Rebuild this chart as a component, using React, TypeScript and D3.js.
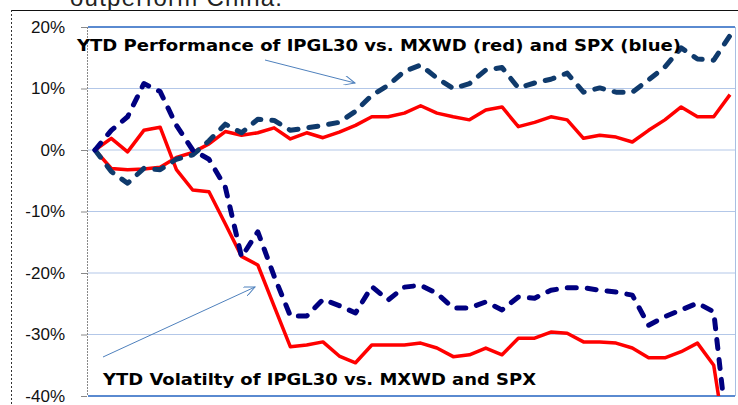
import React, { useEffect, useRef } from "react";
import * as d3 from "d3";

// weekly observations, YTD
const weeks = [
  1, 2, 3, 4, 5, 6, 7, 8, 9, 10, 11, 12, 13, 14, 15, 16, 17, 18, 19, 20,
  21, 22, 23, 24, 25, 26, 27, 28, 29, 30, 31, 32, 33, 34, 35, 36, 37, 38, 39, 40
];

// performance of IPGL30 vs MXWD (red) and SPX (blue), in %
const perfVsMxwd = [
  0, -3, -3.2, -3.1, -2.8, -1.2, -0.4, 1, 3, 2.4, 2.8, 3.6, 1.8, 2.8, 2, 2.9, 4, 5.4, 5.4, 6,
  7.2, 6, 5.4, 4.9, 6.5, 7, 3.8, 4.5, 5.4, 4.9, 1.9, 2.4, 2.1, 1.3, 3.2, 4.9, 7, 5.4, 5.4, 9
];
const perfVsSpx = [
  0, -3.5, -5.4, -3, -3.2, -1.5, -0.8, 1.5, 4.2, 2.8, 5, 4.8, 3.2, 3.6, 4, 4.5, 6.3, 8.9, 10.5, 12.8,
  13.8, 11.7, 10, 10.8, 13, 13.4, 10.1, 10.9, 11.5, 12.5, 9.4, 10.1, 9.4, 9.4, 11.4, 13.5, 16.6, 14.8, 14.6, 18.6
];

// volatility of IPGL30 vs MXWD (red) and SPX (blue), in %
const volVsMxwd = [
  0, 1.9, -0.3, 3.2, 3.7, -3.2, -6.5, -6.8, -12, -17.3, -18.7, -25.4, -32, -31.7, -31.2, -33.5, -34.6, -31.7, -31.7, -31.7,
  -31.4, -32.2, -33.6, -33.3, -32.2, -33.3, -30.6, -30.6, -29.6, -29.8, -31.2, -31.2, -31.4, -32.2, -33.8, -33.8, -32.8, -31.4, -35, -52
];
const volVsSpx = [
  0, 3.2, 5.4, 10.8, 9.5, 4, 0, -1.5, -6, -17.4, -13.3, -20.5, -27, -27, -24.3, -25.3, -26.5, -22.2, -24.4, -22.3,
  -22, -23.3, -25.7, -25.7, -24.7, -26, -23.9, -24.1, -22.8, -22.4, -22.4, -22.8, -23.1, -23.6, -28.5, -27.1, -26, -24.9, -26.3, -50
];

const yTicks = [20, 10, 0, -10, -20, -30, -40];

const perfLabel = "YTD Performance of IPGL30 vs. MXWD (red) and SPX (blue)";
const volLabel = "YTD Volatilty of IPGL30 vs. MXWD and SPX";

const App: React.FC = () => {
  const svgRef = useRef<SVGSVGElement | null>(null);

  useEffect(() => {
    if (!svgRef.current) return;
    const svg = d3.select(svgRef.current);
    svg.selectAll("*").remove();

    const plot = { left: 88, right: 735, top: 27, bottom: 396 };

    const x = d3.scaleLinear()
      .domain([weeks[0], weeks[weeks.length - 1]])
      .range([95, 730]);

    const y = d3.scaleLinear()
      .domain([-40, 20])
      .range([plot.bottom, plot.top]);

    // outer frame of the slide box
    svg.append("line")
      .attr("x1", 11).attr("x2", 738)
      .attr("y1", 10.5).attr("y2", 10.5)
      .attr("stroke", "#111").attr("stroke-width", 1);
    svg.append("line")
      .attr("x1", 11.5).attr("x2", 11.5)
      .attr("y1", 10).attr("y2", 405)
      .attr("stroke", "#333").attr("stroke-dasharray", "2,2");

    // cut-off text from above
    svg.append("text")
      .attr("x", 70).attr("y", 6)
      .attr("font-family", "Liberation Sans, Arial, sans-serif")
      .attr("font-size", 24)
      .attr("fill", "#222")
      .attr("textLength", 212)
      .text("outperform China.");

    const defs = svg.append("defs");
    defs.append("clipPath").attr("id", "plotClip")
      .append("rect")
      .attr("x", plot.left).attr("y", 20)
      .attr("width", plot.right - plot.left).attr("height", plot.bottom - 20);
    defs.append("marker")
      .attr("id", "arrowHead")
      .attr("viewBox", "0 0 12 10")
      .attr("refX", 11).attr("refY", 5)
      .attr("markerWidth", 12).attr("markerHeight", 10)
      .attr("markerUnits", "userSpaceOnUse")
      .attr("orient", "auto")
      .append("path")
      .attr("d", "M0,0 L11,5 L0,10")
      .attr("fill", "none")
      .attr("stroke", "#4f81bd")
      .attr("stroke-width", 1);

    // gridlines
    svg.append("g")
      .selectAll("line")
      .data(yTicks)
      .enter()
      .append("line")
      .attr("x1", plot.left).attr("x2", plot.right)
      .attr("y1", d => y(d)).attr("y2", d => y(d))
      .attr("stroke", d => (d === 20 || d === -40) ? "#5a8ad0" : "#b3c7e8")
      .attr("stroke-width", d => (d === 20 || d === -40) ? 2 : 1);

    // right border of plot
    svg.append("line")
      .attr("x1", plot.right + 0.5).attr("x2", plot.right + 0.5)
      .attr("y1", plot.top).attr("y2", plot.bottom)
      .attr("stroke", "#a8bfe3");

    // y axis
    const axis = svg.append("g");
    axis.append("line")
      .attr("x1", 87.5).attr("x2", 87.5)
      .attr("y1", plot.top).attr("y2", plot.bottom)
      .attr("stroke", "#888").attr("stroke-dasharray", "2,1");
    axis.selectAll(".tick")
      .data(yTicks)
      .enter()
      .append("line")
      .attr("x1", 81).attr("x2", 87)
      .attr("y1", d => y(d) + 0.5).attr("y2", d => y(d) + 0.5)
      .attr("stroke", "#888");
    axis.selectAll(".label")
      .data(yTicks)
      .enter()
      .append("text")
      .attr("x", 65)
      .attr("y", d => y(d))
      .attr("dy", "0.35em")
      .attr("text-anchor", "end")
      .attr("font-family", "Liberation Sans, Arial, sans-serif")
      .attr("font-size", 17)
      .attr("fill", "#111")
      .text(d => `${d}%`);

    const line = d3.line<number>()
      .x((_, i) => x(weeks[i]))
      .y(d => y(d));

    const series = [
      { values: perfVsMxwd, color: "#ff0000", dashed: false },
      { values: volVsMxwd, color: "#ff0000", dashed: false },
      { values: perfVsSpx, color: "#0f3a6c", dashed: true },
      { values: volVsSpx, color: "#000080", dashed: true }
    ];

    const lines = svg.append("g").attr("clip-path", "url(#plotClip)");
    series.forEach(s => {
      lines.append("path")
        .datum(s.values)
        .attr("d", line)
        .attr("fill", "none")
        .attr("stroke", s.color)
        .attr("stroke-width", s.dashed ? 5 : 3.5)
        .attr("stroke-linejoin", "round")
        .attr("stroke-linecap", s.dashed ? "round" : "butt")
        .attr("stroke-dasharray", s.dashed ? "9,11" : null);
    });

    // annotations
    svg.append("text")
      .attr("x", 77).attr("y", 51)
      .attr("font-family", "DejaVu Sans, Verdana, sans-serif")
      .attr("font-weight", "bold")
      .attr("font-size", 16)
      .attr("fill", "#000")
      .attr("textLength", 604)
      .attr("lengthAdjust", "spacingAndGlyphs")
      .text(perfLabel);
    svg.append("text")
      .attr("x", 103).attr("y", 385)
      .attr("font-family", "DejaVu Sans, Verdana, sans-serif")
      .attr("font-weight", "bold")
      .attr("font-size", 16)
      .attr("fill", "#000")
      .attr("textLength", 433)
      .attr("lengthAdjust", "spacingAndGlyphs")
      .text(volLabel);

    svg.append("line")
      .attr("x1", 265).attr("y1", 60)
      .attr("x2", 355).attr("y2", 83)
      .attr("stroke", "#4f81bd").attr("stroke-width", 1)
      .attr("marker-end", "url(#arrowHead)");
    svg.append("line")
      .attr("x1", 103).attr("y1", 357)
      .attr("x2", 255).attr("y2", 287)
      .attr("stroke", "#4f81bd").attr("stroke-width", 1)
      .attr("marker-end", "url(#arrowHead)");
  }, []);

  return (
    <svg
      ref={svgRef}
      width={738}
      height={405}
      style={{ position: "absolute", left: 0, top: 0, background: "#fff" }}
    />
  );
};

export default App;
